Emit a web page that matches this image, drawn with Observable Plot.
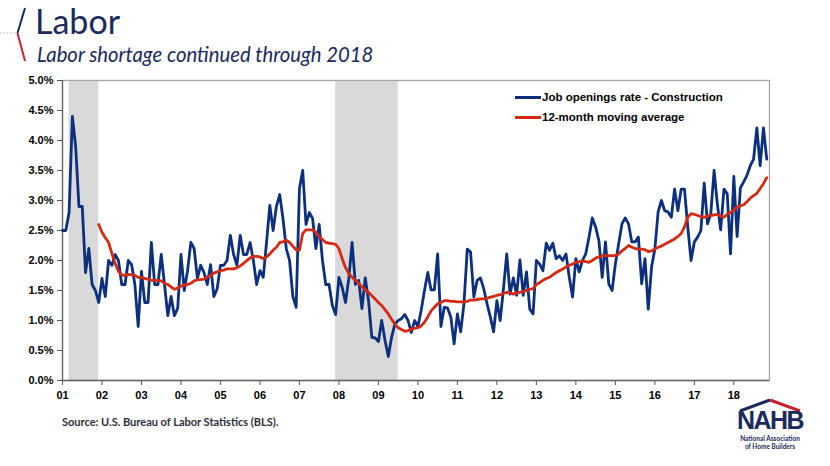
<!DOCTYPE html>
<html><head><meta charset="utf-8">
<script src="https://cdn.jsdelivr.net/npm/d3@7"></script>
<script src="https://cdn.jsdelivr.net/npm/@observablehq/plot@0.6"></script>
<style>
html,body{margin:0;padding:0;background:#fff}
body{width:830px;height:466px;overflow:hidden;position:relative;font-family:"Liberation Sans",Arial,sans-serif}
#chart{position:absolute;left:0;top:0}
.title{position:absolute;left:35px;top:0px;font-family:Lato,sans-serif;font-size:34px;color:#1b2a5c;white-space:nowrap}
.subtitle{position:absolute;left:37px;top:42px;font-family:Lato,sans-serif;font-style:italic;font-size:20.3px;color:#1b2a5c;white-space:nowrap}
.legend{position:absolute;left:515px;font-family:"Liberation Sans",Arial,sans-serif;font-weight:bold;font-size:11.5px;color:#000;white-space:nowrap;display:flex;align-items:center}
.legend i{display:inline-block;width:26px;height:3px;margin-right:1px}
.source{position:absolute;left:62px;top:415px;font-family:Lato,sans-serif;font-weight:bold;font-size:11px;color:#2e2e3a;white-space:nowrap}
.roof{position:absolute;left:734px;top:398px}
.nahb{position:absolute;left:734px;top:407px;width:72px;text-align:center;color:#1b2a5c;font-family:"Liberation Sans",Arial,sans-serif;font-weight:bold;font-size:25px;letter-spacing:-1.5px;line-height:26px}
.small{position:absolute;left:734px;top:435px;width:72px;text-align:center;color:#1b2a5c;font-family:Lato,sans-serif;font-weight:bold;font-size:6.5px;line-height:8px;white-space:nowrap}
</style></head><body>
<svg width="40" height="70" style="position:absolute;left:0;top:0">
  <line x1="0" y1="33" x2="16" y2="33" stroke="#b0b0b0" stroke-width="1.2" stroke-dasharray="1.5,2"/>
  <line x1="25" y1="8" x2="17.5" y2="33" stroke="#1b2a5c" stroke-width="2"/>
  <line x1="17.5" y1="33" x2="25" y2="61" stroke="#c8202f" stroke-width="2"/>
</svg>
<div class="title">Labor</div>
<div class="subtitle">Labor shortage continued through 2018</div>
<div id="chart"></div>
<div class="legend" style="top:91px"><i style="background:#0c2f7e"></i>Job openings rate - Construction</div>
<div class="legend" style="top:111px"><i style="background:#d42a12"></i>12-month moving average</div>
<div class="source">Source: U.S. Bureau of Labor Statistics (BLS).</div>
<svg class="roof" width="72" height="14">
  <polyline points="6,13 36,2" fill="none" stroke="#1b2a5c" stroke-width="3"/>
  <polyline points="36,2 66,13" fill="none" stroke="#c8202f" stroke-width="3"/>
</svg>
<div class="nahb">NAHB</div>
<div class="small">National Association<br>of Home Builders</div>
<script>
// Monthly series, first month 2001-01
const startMonth = "2001-01";
const jobOpeningsRate = [
  2.5, 2.5, 2.8, 4.4, 3.9, 2.9, 2.9, 1.8, 2.2, 1.6, 1.5, 1.3,
  1.7, 1.4, 2.0, 1.92, 2.1, 2.0, 1.6, 1.6, 2.0, 1.93, 1.6, 0.9,
  1.82, 1.3, 1.3, 2.3, 1.6, 1.6, 2.1, 1.6, 1.08, 1.4, 1.08, 1.2,
  2.1, 1.5, 1.83, 2.3, 2.2, 1.7, 1.92, 1.8, 1.6, 1.93, 1.4, 1.53,
  1.92, 1.92, 2.0, 2.42, 2.1, 1.92, 2.42, 2.1, 2.1, 2.3, 2.0, 1.6,
  1.83, 1.72, 2.3, 2.92, 2.5, 2.9, 3.1, 2.7, 2.2, 2.0, 1.4, 1.22,
  3.2, 3.5, 2.6, 2.8, 2.7, 2.2, 2.6, 2.0, 1.6, 1.6, 1.25, 1.1,
  1.72, 1.55, 1.3, 1.7, 2.3, 1.6, 1.67, 1.2, 1.71, 1.33, 0.72, 0.71,
  0.65, 1.0, 0.67, 0.4, 0.72, 0.94, 1.0, 1.03, 1.1, 1.0, 0.8, 1.0,
  0.9, 1.17, 1.5, 1.8, 1.51, 1.51, 2.11, 0.9, 1.22, 1.21, 1.06, 0.61,
  1.11, 0.81, 1.28, 2.19, 2.14, 1.39, 1.67, 1.71, 1.53, 1.28, 1.06, 0.81,
  1.33, 1.0, 1.53, 2.11, 1.44, 1.71, 1.42, 2.01, 1.42, 1.81, 1.19, 1.11,
  2.0, 1.94, 1.83, 2.29, 2.17, 2.29, 2.03, 2.08, 2.0, 2.11, 1.72, 1.39,
  2.03, 1.81, 2.0, 2.11, 2.39, 2.71, 2.56, 2.33, 1.72, 2.31, 1.61, 1.5,
  1.94, 2.28, 2.61, 2.71, 2.61, 2.31, 2.31, 2.39, 1.61, 2.03, 1.19, 1.89,
  2.19, 2.81, 3.0, 2.83, 2.81, 2.72, 3.19, 2.83, 3.19, 3.19, 2.56, 2.0,
  2.31, 2.39, 2.5, 3.29, 2.61, 2.78, 3.5, 2.94, 2.51, 3.19, 3.11, 2.11,
  3.4, 2.4, 3.21, 3.31, 3.42, 3.58, 3.69, 4.21, 3.58, 4.21, 3.69
];
// 12-month moving average, first month 2001-12
const movingAverageStart = "2001-12";
const movingAverage = [
  2.60,
  2.47, 2.38, 2.30, 2.12, 1.95, 1.82, 1.76, 1.75, 1.77, 1.76, 1.75, 1.72,
  1.72, 1.70, 1.69, 1.67, 1.67, 1.67, 1.66, 1.62, 1.60, 1.56, 1.52, 1.54,
  1.57, 1.59, 1.60, 1.62, 1.66, 1.68, 1.68, 1.69, 1.72, 1.75, 1.79, 1.81,
  1.83, 1.84, 1.86, 1.86, 1.86, 1.88, 1.91, 1.95, 2.00, 2.04, 2.07, 2.07,
  2.06, 2.03, 2.06, 2.11, 2.17, 2.22, 2.30, 2.31, 2.34, 2.30, 2.24, 2.18,
  2.17, 2.45, 2.51, 2.51, 2.51, 2.47, 2.40, 2.35, 2.30, 2.29, 2.28, 2.27,
  2.20, 2.03, 1.88, 1.78, 1.72, 1.67, 1.62, 1.56, 1.51, 1.47, 1.41, 1.36,
  1.30, 1.25, 1.18, 1.11, 1.02, 0.94, 0.88, 0.85, 0.82, 0.83, 0.86, 0.87,
  0.88, 0.91, 0.97, 1.06, 1.16, 1.22, 1.28, 1.30, 1.33, 1.33, 1.32, 1.32,
  1.31, 1.31, 1.31, 1.32, 1.34, 1.34, 1.35, 1.36, 1.36, 1.37, 1.39, 1.40,
  1.42, 1.43, 1.45, 1.47, 1.46, 1.44, 1.46, 1.47, 1.48, 1.50, 1.52, 1.53,
  1.60, 1.63, 1.67, 1.70, 1.72, 1.76, 1.80, 1.83, 1.86, 1.89, 1.92, 1.94,
  1.97, 1.98, 1.99, 1.98, 1.97, 2.00, 2.04, 2.06, 2.08, 2.08, 2.08, 2.08,
  2.08, 2.11, 2.16, 2.20, 2.25, 2.22, 2.20, 2.19, 2.19, 2.18, 2.15, 2.16,
  2.19, 2.22, 2.24, 2.27, 2.30, 2.33, 2.36, 2.40, 2.45, 2.56, 2.72, 2.78,
  2.77, 2.75, 2.73, 2.72, 2.74, 2.75, 2.76, 2.77, 2.74, 2.72, 2.77, 2.80,
  2.84, 2.89, 2.91, 2.93, 2.98, 3.04, 3.08, 3.12, 3.20, 3.28, 3.38
];
// Recessions (shaded)
const recessionStart = ["2001-03", "2007-12"];
const recessionEnd = ["2001-12", "2009-07"];
// Axis ticks
const yearTicks = [2001,2002,2003,2004,2005,2006,2007,2008,2009,2010,2011,2012,2013,2014,2015,2016,2017,2018];
const rateTicks = [0, 0.5, 1, 1.5, 2, 2.5, 3, 3.5, 4, 4.5, 5];
const xEnd = "2018-11";

const toYear = s => { const [y, m] = s.split("-").map(Number); return y + (m - 1) / 12; };
const t0 = toYear(startMonth);
const blue = jobOpeningsRate.map((v, i) => ({t: t0 + i / 12, v}));
const m0 = toYear(movingAverageStart);
const red = movingAverage.map((v, i) => ({t: m0 + i / 12, v}));
const rec = recessionStart.map((s, i) => ({x1: toYear(s), x2: toYear(recessionEnd[i])}));

const chart = Plot.plot({
  width: 830,
  height: 410,
  marginTop: 80,
  marginBottom: 30,
  marginLeft: 62,
  marginRight: 61,
  style: {fontFamily: "'Liberation Sans', Arial, sans-serif", background: "transparent", color: "#000"},
  x: {domain: [t0, toYear(xEnd) + 0.07]},
  y: {domain: [0, 5]},
  marks: [
    Plot.rect(rec, {x1: "x1", x2: "x2", fill: "#d9d9d9"}),
    Plot.frame({stroke: "#a6a6a6", strokeWidth: 1.3}),
    Plot.axisY({ticks: rateTicks, tickFormat: d => d.toFixed(1) + "%", tickSize: 5, tickPadding: 4, fontSize: 11, fontWeight: "bold", label: null, stroke: "#555"}),
    Plot.axisX({ticks: yearTicks, tickFormat: d => String(d).slice(2), tickSize: 5, tickPadding: 6, fontSize: 11, fontWeight: "bold", label: null, stroke: "#555"}),
    Plot.ruleY([0], {stroke: "#666", strokeWidth: 1.3}),
    Plot.ruleX([t0], {stroke: "#666", strokeWidth: 1.3}),
    Plot.lineY(blue, {x: "t", y: "v", stroke: "#0c2f7e", strokeWidth: 2.8, strokeLinejoin: "round"}),
    Plot.lineY(red, {x: "t", y: "v", stroke: "#d42a12", strokeWidth: 2.8, strokeLinejoin: "round"})
  ]
});
document.getElementById("chart").appendChild(chart);
</script>
</body></html>
